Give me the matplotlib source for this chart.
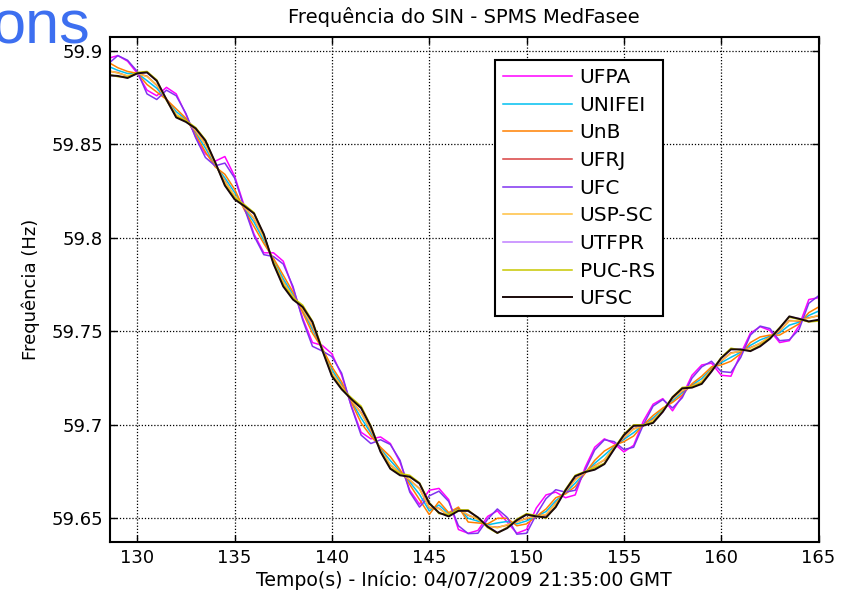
import numpy as np
import matplotlib
matplotlib.use("Agg")
import matplotlib.pyplot as plt

plt.rcParams['font.family'] = ['DejaVu Sans']

# tempo (s), passo de 0.5 s
tempo = np.arange(128.5, 165.01, 0.5)

ufpa = [59.8960, 59.8975, 59.8945, 59.8880, 59.8790, 59.8760, 59.8805, 59.8770, 59.8660, 59.8540,
        59.8450, 59.8410, 59.8435, 59.8330, 59.8170, 59.8020, 59.7920, 59.7920, 59.7875, 59.7730,
        59.7570, 59.7440, 59.7425, 59.7380, 59.7265, 59.7100, 59.6960, 59.6925, 59.6935, 59.6900,
        59.6800, 59.6650, 59.6575, 59.6650, 59.6660, 59.6600, 59.6440, 59.6420, 59.6435, 59.6510,
        59.6540, 59.6480, 59.6420, 59.6440, 59.6555, 59.6625, 59.6640, 59.6610, 59.6625, 59.6770,
        59.6880, 59.6925, 59.6900, 59.6855, 59.6890, 59.7020, 59.7110, 59.7140, 59.7075, 59.7155,
        59.7265, 59.7320, 59.7330, 59.7265, 59.7260, 59.7380, 59.7490, 59.7525, 59.7505, 59.7440,
        59.7450, 59.7530, 59.7670, 59.7680]

unifei = [59.8918, 59.8896, 59.8879, 59.8880, 59.8841, 59.8800, 59.8740, 59.8675, 59.8634, 59.8562,
          59.8480, 59.8388, 59.8321, 59.8243, 59.8157, 59.8083, 59.7986, 59.7881, 59.7781, 59.7697,
          59.7610, 59.7510, 59.7407, 59.7294, 59.7217, 59.7126, 59.7036, 59.6956, 59.6872, 59.6809,
          59.6751, 59.6694, 59.6628, 59.6540, 59.6571, 59.6524, 59.6554, 59.6500, 59.6485, 59.6465,
          59.6475, 59.6483, 59.6470, 59.6486, 59.6510, 59.6536, 59.6594, 59.6637, 59.6688, 59.6743,
          59.6794, 59.6838, 59.6884, 59.6922, 59.6958, 59.6999, 59.7037, 59.7084, 59.7129, 59.7172,
          59.7213, 59.7247, 59.7302, 59.7332, 59.7361, 59.7388, 59.7425, 59.7454, 59.7474, 59.7492,
          59.7533, 59.7549, 59.7585, 59.7608]

unb = [59.8940, 59.8910, 59.8890, 59.8880, 59.8820, 59.8780, 59.8740, 59.8690, 59.8640, 59.8550,
       59.8460, 59.8380, 59.8340, 59.8260, 59.8150, 59.8060, 59.7970, 59.7890, 59.7800, 59.7710,
       59.7600, 59.7490, 59.7410, 59.7310, 59.7230, 59.7120, 59.7010, 59.6940, 59.6880, 59.6830,
       59.6760, 59.6680, 59.6600, 59.6520, 59.6590, 59.6530, 59.6560, 59.6480, 59.6475, 59.6470,
       59.6500, 59.6500, 59.6460, 59.6470, 59.6510, 59.6550, 59.6610, 59.6630, 59.6670, 59.6740,
       59.6810, 59.6860, 59.6890, 59.6910, 59.6940, 59.7000, 59.7050, 59.7090, 59.7120, 59.7160,
       59.7220, 59.7260, 59.7310, 59.7320, 59.7340, 59.7380, 59.7440, 59.7470, 59.7480, 59.7480,
       59.7510, 59.7540, 59.7600, 59.7630]

ufrj = [59.8892, 59.8884, 59.8864, 59.8878, 59.8865, 59.8816, 59.8743, 59.8657, 59.8630, 59.8570,
        59.8502, 59.8393, 59.8304, 59.8222, 59.8166, 59.8102, 59.8005, 59.7868, 59.7764, 59.7681,
        59.7622, 59.7526, 59.7407, 59.7275, 59.7207, 59.7128, 59.7065, 59.6969, 59.6867, 59.6785,
        59.6744, 59.6704, 59.6659, 59.6556, 59.6554, 59.6514, 59.6550, 59.6516, 59.6497, 59.6457,
        59.6452, 59.6463, 59.6482, 59.6499, 59.6513, 59.6518, 59.6581, 59.6640, 59.6709, 59.6742,
        59.6781, 59.6812, 59.6880, 59.6930, 59.6979, 59.6994, 59.7027, 59.7074, 59.7141, 59.7180,
        59.7209, 59.7230, 59.7297, 59.7341, 59.7385, 59.7392, 59.7413, 59.7435, 59.7470, 59.7501,
        59.7558, 59.7555, 59.7573, 59.7583]

ufc = [59.8930, 59.8975, 59.8950, 59.8890, 59.8770, 59.8740, 59.8790, 59.8760, 59.8665, 59.8535,
       59.8430, 59.8385, 59.8400, 59.8320, 59.8160, 59.8010, 59.7910, 59.7900, 59.7860, 59.7740,
       59.7560, 59.7420, 59.7395, 59.7365, 59.7276, 59.7097, 59.6945, 59.6900, 59.6920, 59.6895,
       59.6810, 59.6640, 59.6560, 59.6620, 59.6645, 59.6590, 59.6460, 59.6418, 59.6420, 59.6495,
       59.6550, 59.6505, 59.6415, 59.6420, 59.6520, 59.6605, 59.6653, 59.6640, 59.6650, 59.6755,
       59.6865, 59.6920, 59.6910, 59.6868, 59.6880, 59.7000, 59.7100, 59.7135, 59.7090, 59.7145,
       59.7250, 59.7310, 59.7340, 59.7285, 59.7280, 59.7360, 59.7480, 59.7528, 59.7515, 59.7450,
       59.7455, 59.7510, 59.7650, 59.7690]

usp_sc = [59.8895, 59.8881, 59.8867, 59.8880, 59.8862, 59.8819, 59.8740, 59.8660, 59.8627, 59.8573,
          59.8499, 59.8396, 59.8301, 59.8225, 59.8163, 59.8105, 59.8002, 59.7871, 59.7761, 59.7684,
          59.7619, 59.7529, 59.7404, 59.7278, 59.7204, 59.7131, 59.7062, 59.6972, 59.6864, 59.6788,
          59.6741, 59.6707, 59.6656, 59.6559, 59.6551, 59.6517, 59.6547, 59.6519, 59.6494, 59.6460,
          59.6449, 59.6466, 59.6479, 59.6502, 59.6510, 59.6521, 59.6578, 59.6643, 59.6706, 59.6745,
          59.6778, 59.6815, 59.6877, 59.6933, 59.6976, 59.6997, 59.7024, 59.7077, 59.7138, 59.7183,
          59.7206, 59.7233, 59.7294, 59.7344, 59.7382, 59.7395, 59.7410, 59.7438, 59.7467, 59.7504,
          59.7555, 59.7558, 59.7570, 59.7586]

utfpr = [59.8868, 59.8864, 59.8857, 59.8878, 59.8884, 59.8842, 59.8738, 59.8646, 59.8622, 59.8583,
         59.8521, 59.8403, 59.8282, 59.8208, 59.8172, 59.8128, 59.8018, 59.7862, 59.7742, 59.7672,
         59.7632, 59.7548, 59.7402, 59.7262, 59.7192, 59.7139, 59.7088, 59.6992, 59.6857, 59.6767,
         59.6732, 59.6724, 59.6684, 59.6582, 59.6528, 59.6512, 59.6542, 59.6538, 59.6503, 59.6457,
         59.6424, 59.6449, 59.6488, 59.6518, 59.6512, 59.6503, 59.6562, 59.6648, 59.6723, 59.6749,
         59.6762, 59.6792, 59.6868, 59.6943, 59.6993, 59.6998, 59.7012, 59.7068, 59.7145, 59.7197,
         59.7201, 59.7221, 59.7283, 59.7355, 59.7402, 59.7405, 59.7396, 59.7418, 59.7462, 59.7515,
         59.7578, 59.7569, 59.7551, 59.7560]

puc_rs = [59.8875, 59.8862, 59.8860, 59.8885, 59.8890, 59.8845, 59.8735, 59.8650, 59.8628, 59.8590,
          59.8525, 59.8400, 59.8285, 59.8215, 59.8178, 59.8135, 59.8015, 59.7870, 59.7750, 59.7680,
          59.7640, 59.7555, 59.7410, 59.7265, 59.7195, 59.7145, 59.7100, 59.6995, 59.6860, 59.6770,
          59.6740, 59.6730, 59.6690, 59.6585, 59.6525, 59.6520, 59.6545, 59.6545, 59.6500, 59.6450,
          59.6420, 59.6452, 59.6495, 59.6525, 59.6515, 59.6500, 59.6565, 59.6655, 59.6730, 59.6750,
          59.6770, 59.6795, 59.6875, 59.6950, 59.7000, 59.7000, 59.7015, 59.7075, 59.7150, 59.7200,
          59.7205, 59.7225, 59.7290, 59.7360, 59.7410, 59.7400, 59.7398, 59.7425, 59.7465, 59.7520,
          59.7575, 59.7565, 59.7550, 59.7555]

ufsc = [59.8870, 59.8866, 59.8855, 59.8880, 59.8885, 59.8840, 59.8740, 59.8644, 59.8620, 59.8585,
        59.8520, 59.8405, 59.8280, 59.8206, 59.8170, 59.8130, 59.8020, 59.7860, 59.7740, 59.7670,
        59.7630, 59.7550, 59.7400, 59.7260, 59.7190, 59.7137, 59.7090, 59.6990, 59.6855, 59.6765,
        59.6730, 59.6722, 59.6686, 59.6580, 59.6530, 59.6510, 59.6540, 59.6540, 59.6505, 59.6455,
        59.6422, 59.6447, 59.6490, 59.6520, 59.6510, 59.6505, 59.6560, 59.6650, 59.6725, 59.6747,
        59.6760, 59.6790, 59.6870, 59.6945, 59.6995, 59.6996, 59.7010, 59.7070, 59.7147, 59.7195,
        59.7199, 59.7219, 59.7285, 59.7357, 59.7404, 59.7403, 59.7394, 59.7420, 59.7460, 59.7517,
        59.7580, 59.7567, 59.7553, 59.7562]

nomes = ["UFPA", "UNIFEI", "UnB", "UFRJ", "UFC", "USP-SC", "UTFPR", "PUC-RS", "UFSC"]
series = [ufpa, unifei, unb, ufrj, ufc, usp_sc, utfpr, puc_rs, ufsc]
cores = ["#ff00ff", "#00c0f0", "#ff8000", "#d84040", "#8033f0",
         "#ffc040", "#c080ff", "#c8c800", "#1a0a0a"]

fig = plt.figure(figsize=(8.49, 5.94), dpi=100)
ax = fig.add_axes([0.1296, 0.0881, 0.8345, 0.8492])

for nome, y, c in zip(nomes, series, cores):
    lw = 1.4 if nome == "UFSC" else 1.1
    ax.plot(tempo, y, color=c, lw=lw, label=nome)

ax.set_xlim(128.6, 165)
ax.set_ylim(59.6375, 59.9073)
ax.set_xticks([130, 135, 140, 145, 150, 155, 160, 165])
ax.set_yticks([59.65, 59.7, 59.75, 59.8, 59.85, 59.9])
ax.set_yticklabels(["59.65", "59.7", "59.75", "59.8", "59.85", "59.9"])

ax.grid(True, color="black", linestyle=(0, (1, 1.5)), linewidth=0.9)
ax.tick_params(direction="in", top=True, right=True, length=5, width=1,
               labelsize=13, pad=5)
for s in ax.spines.values():
    s.set_linewidth(1.5)

ax.set_title("Frequência do SIN - SPMS MedFasee", fontsize=14, pad=10)
ax.set_xlabel("Tempo(s) - Início: 04/07/2009 21:35:00 GMT", fontsize=13.6, labelpad=3)
ax.set_ylabel("Frequência (Hz)", fontsize=13, labelpad=8)

leg = ax.legend(loc="upper left", bbox_to_anchor=(0.5434, 0.955), borderaxespad=0,
                fontsize=14.5, handlelength=3.4, handletextpad=0.4, labelspacing=0.43,
                borderpad=0.4, fancybox=False, framealpha=1, edgecolor="black")
leg.get_frame().set_linewidth(1.5)

fig.text(90 / 849, 1 - 43 / 594, "ons", color="#3d6ff0", fontsize=44,
         family="Liberation Sans", ha="right", va="baseline")

fig.savefig("out.png", dpi=100)
